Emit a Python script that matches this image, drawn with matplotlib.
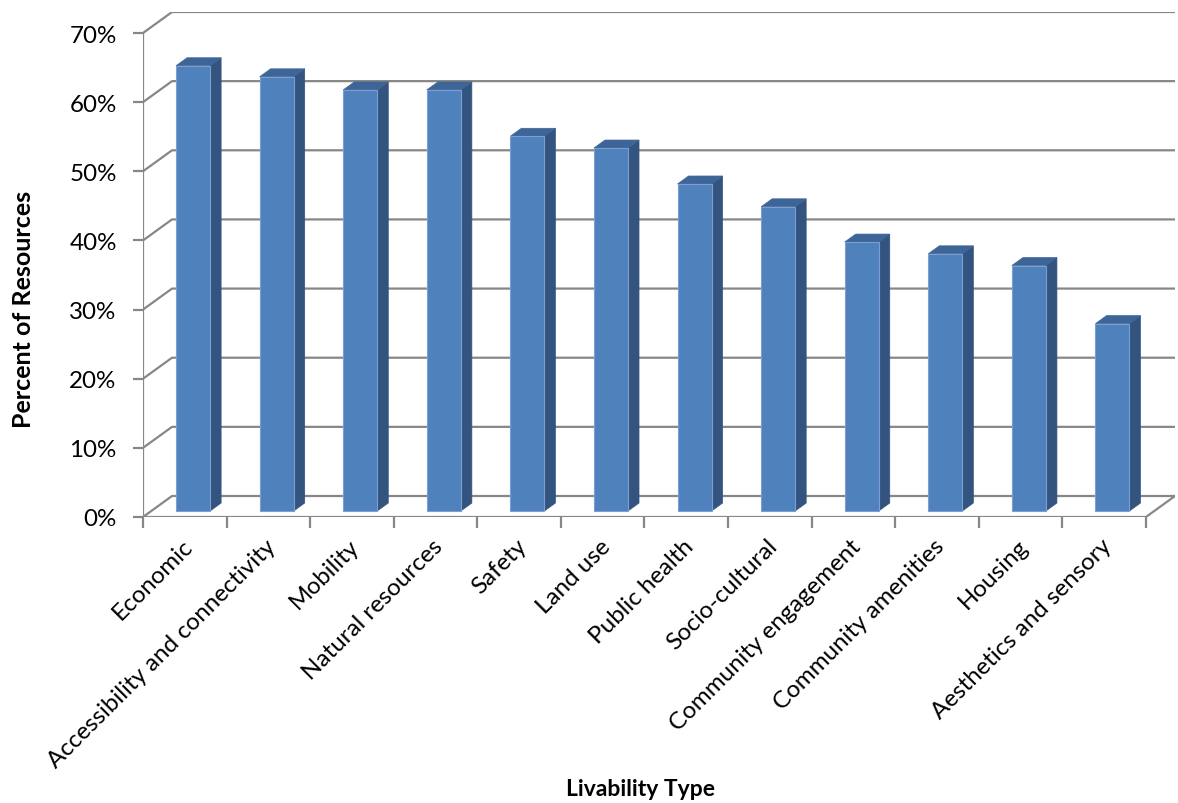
import matplotlib
matplotlib.use("Agg")
import matplotlib.pyplot as plt
from matplotlib.patches import Polygon

categories = [
    "Economic", "Accessibility and connectivity", "Mobility", "Natural resources",
    "Safety", "Land use", "Public health", "Socio-cultural",
    "Community engagement", "Community amenities", "Housing", "Aesthetics and sensory",
]
percent = [64.4, 62.8, 60.9, 60.9, 54.2, 52.5, 47.3, 44.0, 38.9, 37.2, 35.5, 27.1]
y_ticks = [0, 10, 20, 30, 40, 50, 60, 70]
y_labels = [f"{t}%" for t in y_ticks]

plt.rcParams["font.family"] = ["Lato", "DejaVu Sans"]

W, H = 1178, 804
fig = plt.figure(figsize=(W / 100, H / 100), dpi=100)

# plot box in pixels: front axis at x=143, floor front at y=518, back top at y=13
ax = fig.add_axes([143 / W, (H - 518) / H, 1032 / W, 505 / H])

n = len(categories)
ymax = y_ticks[-1]
DX = 29 / 83.5          # depth shift along x (category units)
DY = 21 / 6.914         # depth shift along y (percent units)
ax.set_xlim(0, n + DX)
ax.set_ylim(0, ymax + DY)
for s in ax.spines.values():
    s.set_visible(False)

grid = "#878787"
lw = 1.6

# back wall gridlines and side wall diagonals
for t in y_ticks:
    ax.plot([0, DX, n + DX], [t, t + DY, t + DY], color=grid, lw=lw,
            solid_capstyle="butt", zorder=1)
# floor front edge, right diagonal and front vertical axis
ax.plot([0, n, n + DX], [0, 0, DY], color=grid, lw=lw, zorder=1)
ax.plot([0, 0], [0, ymax], color=grid, lw=lw, zorder=1)

# 3D columns
f0, f1 = 0.286, 0.665
bw = 34 / 83.5
front_c = "#4f81bd"
side_c = "#33547f"
top_c = "#3e6597"
edge_c = "#7a9fd0"
for i, v in enumerate(percent):
    x0 = i + 0.5 + f0 * DX - bw / 2
    x1 = x0 + bw
    y0 = f0 * DY
    y1 = y0 + v
    ddx = (f1 - f0) * DX
    ddy = (f1 - f0) * DY
    front = Polygon([(x0, y0), (x1, y0), (x1, y1), (x0, y1)],
                    closed=True, fc=front_c, ec=edge_c, lw=0.8, zorder=3)
    side = Polygon([(x1, y0), (x1 + ddx, y0 + ddy), (x1 + ddx, y1 + ddy), (x1, y1)],
                   closed=True, fc=side_c, ec=side_c, lw=0.5, zorder=3)
    top = Polygon([(x0, y1), (x1, y1), (x1 + ddx, y1 + ddy), (x0 + ddx, y1 + ddy)],
                  closed=True, fc=top_c, ec=top_c, lw=0.5, zorder=3)
    for p in (side, top, front):
        ax.add_patch(p)

# y axis ticks
ax.set_yticks(y_ticks)
ax.set_yticklabels(y_labels, fontsize=17.4)
ax.tick_params(axis="y", direction="out", length=7, width=lw, color=grid, pad=12)

# x axis: boundary ticks, labels at column centres
ax.set_xticks(range(n + 1))
ax.set_xticklabels([])
ax.tick_params(axis="x", which="major", direction="out", length=8, width=lw, color=grid)
ax.set_xticks([i + 0.5 - 0.04 for i in range(n)], minor=True)
ax.set_xticklabels(categories, minor=True, fontsize=17.4, rotation=45,
                   ha="right", va="top", rotation_mode="anchor")
ax.tick_params(axis="x", which="minor", length=0, pad=13)

fig.text(24 / W, 1 - 309 / H, "Percent of Resources", rotation=90, fontsize=18,
         fontweight="bold", ha="center", va="center")
fig.text(640 / W, 1 - 790 / H, "Livability Type", fontsize=16.5,
         fontweight="bold", ha="center", va="center")

fig.savefig("out.png", dpi=100)
